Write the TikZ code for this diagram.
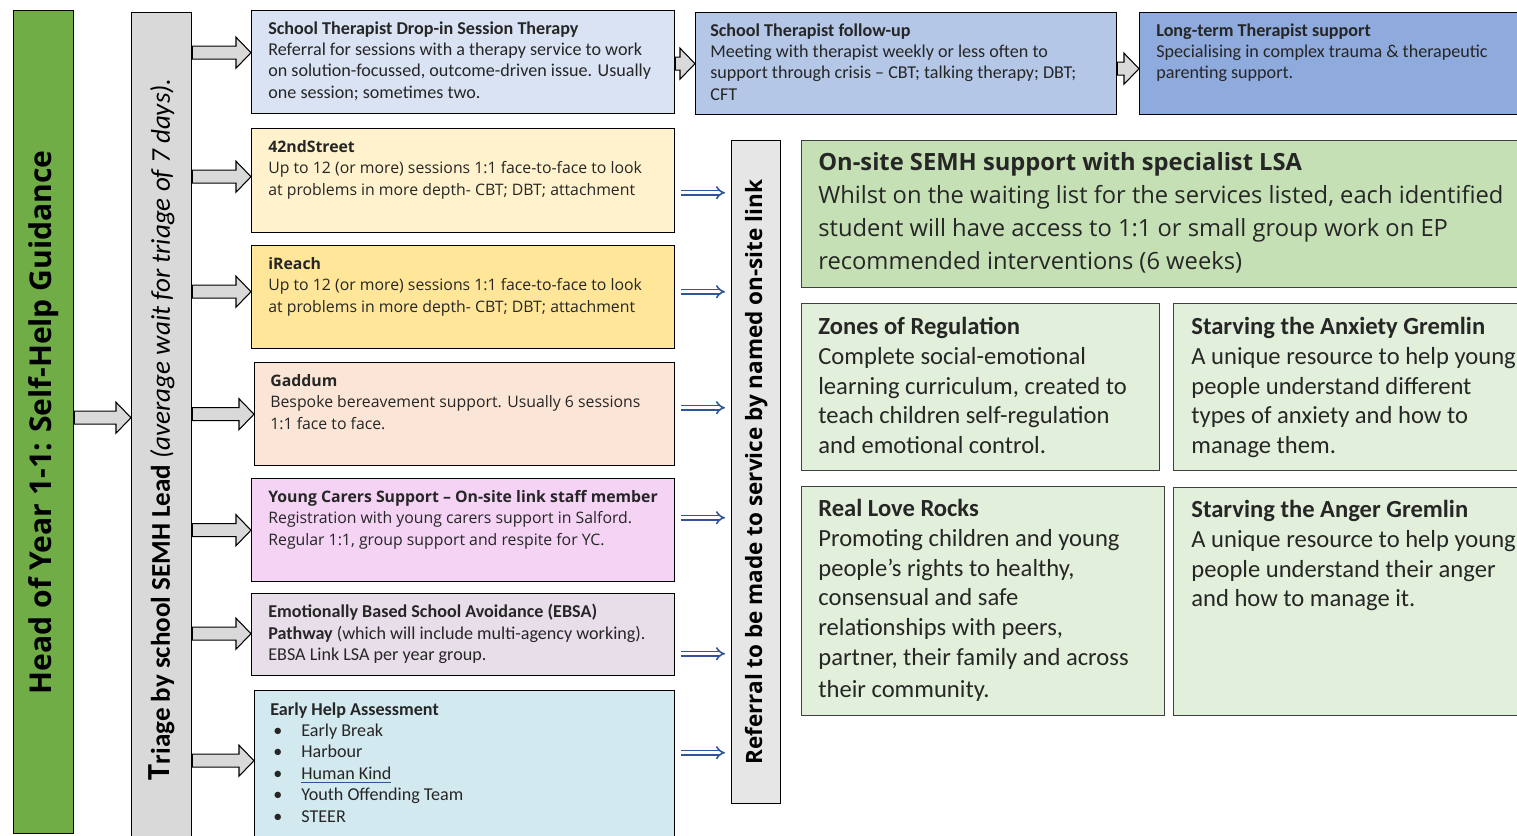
\documentclass[tikz,border=0pt]{standalone}
\usepackage{fontspec}
\usepackage{graphicx}
\setmainfont{Carlito}
\newfontfamily\segoe{Open Sans}
\usetikzlibrary{calc,arrows.meta}

\definecolor{headgreen}{HTML}{70AD47}
\definecolor{triagegray}{HTML}{D9D9D9}
\definecolor{refgray}{HTML}{E7E6E6}
\definecolor{linkblue}{HTML}{2F5597}
\definecolor{dropin}{HTML}{DAE3F3}
\definecolor{followup}{HTML}{B4C7E7}
\definecolor{longterm}{HTML}{8FAADC}
\definecolor{street}{HTML}{FFF2CC}
\definecolor{ireach}{HTML}{FFE699}
\definecolor{gaddum}{HTML}{FBE5D6}
\definecolor{carers}{HTML}{F4D3F4}
\definecolor{ebsa}{HTML}{E8DEEA}
\definecolor{earlyhelp}{HTML}{D3E9F0}
\definecolor{semh}{HTML}{C5E0B4}
\definecolor{semhlight}{HTML}{E2EFDA}

\newcommand{\itembul}{\makebox[0.62cm][l]{\hspace{0.06cm}\textbullet}}

\tikzset{
  box/.style={draw, line width=0.8pt, anchor=north west, inner sep=0pt},
  greenbox/.style={box, draw=black!75, fill=semhlight},
  txt/.style={anchor=north west, inner sep=0pt, align=left, text=black!85},
  calibri/.style={font=\fontsize{10.3}{12.2}\selectfont},
  segoesmall/.style={font=\segoe\fontsize{9}{12.2}\selectfont},
  calibribig/.style={font=\fontsize{14}{16.9}\selectfont},
  bigarrow/.style={draw=black, fill=triagegray, line width=0.6pt,
    to path={let \p1=(\tikztostart), \p2=(\tikztotarget) in
      (\x1,\y2+1.3mm) -- (\x2-3mm,\y2+1.3mm) -- (\x2-3mm,\y2+3.1mm) -- (\x2,\y2)
      -- (\x2-3mm,\y2-3.1mm) -- (\x2-3mm,\y2-1.3mm) -- (\x1,\y2-1.3mm) -- cycle}},
  dblarrow/.style={draw=linkblue, double=white, double distance=1.6pt, line width=0.9pt,
    -{Implies}, shorten <=1.2mm, shorten >=1.2mm},
}

\begin{document}
\begin{tikzpicture}
\useasboundingbox (0,0) rectangle (30.34,16.7);

% the two tall bars on the left
\node[box, fill=headgreen, minimum width=1.2cm, minimum height=16.46cm] (head) at (0.26,16.5)
  {\rotatebox{90}{\segoe\bfseries\fontsize{17.1}{17.1}\selectfont Head of Year 1-1: Self-Help Guidance}};
\node[box, fill=triagegray, minimum width=1.2cm, minimum height=16.66cm] (tri) at (2.62,16.46)
  {\rotatebox{90}{\fontsize{15.4}{15.4}\selectfont\textbf{{\fontsize{18.3}{18.3}\selectfont T}riage by school SEMH Lead} \textit{(average wait for triage of 7 days).}}};

% services
\node[box, fill=dropin, minimum width=8.46cm, minimum height=2.06cm] (b1) at (5.02,16.5) {};
\node[box, fill=followup, minimum width=8.42cm, minimum height=2.04cm] (b2) at (13.9,16.46) {};
\node[box, fill=longterm, minimum width=7.8cm, minimum height=2.04cm] (b3) at (22.78,16.46) {};
\node[box, fill=street, minimum width=8.46cm, minimum height=2.08cm] (b4) at (5.02,14.14) {};
\node[box, fill=ireach, minimum width=8.46cm, minimum height=2.06cm] (b5) at (5.02,11.8) {};
\node[box, fill=gaddum, minimum width=8.4cm, minimum height=2.06cm] (b6) at (5.08,9.46) {};
\node[box, fill=carers, minimum width=8.46cm, minimum height=2.06cm] (b7) at (5.02,7.14) {};
\node[box, fill=ebsa, minimum width=8.46cm, minimum height=1.64cm] (b8) at (5.02,4.84) {};
\node[box, fill=earlyhelp, minimum width=8.4cm, minimum height=3.2cm] (b9) at (5.08,2.9) {};

\node[txt, calibri] (b1t) at ([shift={(0.34,-0.22)}]b1.north west)
  {\textbf{School Therapist Drop-in Session Therapy}\\Referral for sessions with a therapy service to work\\on solution-focussed, outcome-driven issue. Usually\\one session; sometimes two.};
\node[txt, calibri] (b2t) at ([shift={(0.3,-0.22)}]b2.north west)
  {\textbf{School Therapist follow-up}\\Meeting with therapist weekly or less often to\\support through crisis – CBT; talking therapy; DBT;\\CFT};
\node[txt, calibri] (b3t) at ([shift={(0.34,-0.22)}]b3.north west)
  {\textbf{Long-term Therapist support}\\Specialising in complex trauma \& therapeutic\\parenting support.};
\node[txt, segoesmall] (b4t) at ([shift={(0.34,-0.24)}]b4.north west)
  {\textbf{42ndStreet}\\Up to 12 (or more) sessions 1:1 face-to-face to look\\at problems in more depth- CBT; DBT; attachment};
\node[txt, segoesmall] (b5t) at ([shift={(0.34,-0.24)}]b5.north west)
  {\textbf{iReach}\\Up to 12 (or more) sessions 1:1 face-to-face to look\\at problems in more depth- CBT; DBT; attachment};
\node[txt, segoesmall] (b6t) at ([shift={(0.32,-0.24)}]b6.north west)
  {\textbf{Gaddum}\\Bespoke bereavement support. Usually 6 sessions\\1:1 face to face.};
\node[txt, segoesmall] (b7t) at ([shift={(0.34,-0.24)}]b7.north west)
  {\textbf{Young Carers Support – On-site link staff member}\\Registration with young carers support in Salford.\\Regular 1:1, group support and respite for YC.};
\node[txt, calibri] (b8t) at ([shift={(0.34,-0.22)}]b8.north west)
  {\textbf{Emotionally Based School Avoidance (EBSA)}\\\textbf{Pathway} (which will include multi-agency working).\\EBSA Link LSA per year group.};
\node[txt, calibri] (b9t) at ([shift={(0.32,-0.24)}]b9.north west)
  {\textbf{Early Help Assessment}\\\itembul Early Break\\\itembul Harbour\\\itembul{\color{linkblue}\underline{\color{black!85}Human Kind}}\\\itembul Youth Offending Team\\\itembul STEER};

% referral bar and in-school support
\node[box, fill=refgray, minimum width=0.98cm, minimum height=13.26cm] (ref) at (14.62,13.9)
  {\rotatebox{90}{\segoe\bfseries\fontsize{12.8}{12.8}\selectfont Referral to be made to service by named on-site link}};
\node[box, draw=black!75, fill=semh, minimum width=14.6cm, minimum height=2.94cm] (semh) at (16.02,13.9) {};
\node[greenbox, minimum width=7.16cm, minimum height=3.34cm] (zones) at (16.02,10.64) {};
\node[greenbox, minimum width=7.2cm, minimum height=3.34cm] (anxiety) at (23.46,10.64) {};
\node[greenbox, minimum width=7.26cm, minimum height=4.58cm] (love) at (16.02,6.98) {};
\node[greenbox, minimum width=7.2cm, minimum height=4.56cm] (anger) at (23.46,6.96) {};

\node[txt, font=\segoe\fontsize{13.5}{18.8}\selectfont] (semht) at ([shift={(0.34,-0.24)}]semh.north west)
  {\textbf{On-site SEMH support with specialist LSA}\\Whilst on the waiting list for the services listed, each identified\\student will have access to 1:1 or small group work on EP\\recommended interventions (6 weeks)};
\node[txt, calibribig] (zonest) at ([shift={(0.34,-0.28)}]zones.north west)
  {\textbf{Zones of Regulation}\\Complete social-emotional\\learning curriculum, created to\\teach children self-regulation\\and emotional control.};
\node[txt, calibribig] (anxietyt) at ([shift={(0.36,-0.28)}]anxiety.north west)
  {\textbf{Starving the Anxiety Gremlin}\\A unique resource to help young\\people understand different\\types of anxiety and how to\\manage them.};
\node[txt, calibribig] (lovet) at ([shift={(0.34,-0.26)}]love.north west)
  {\textbf{Real Love Rocks}\\Promoting children and young\\people's rights to healthy,\\consensual and safe\\relationships with peers,\\partner, their family and across\\[0.06cm]their community.};
\node[txt, calibribig] (angert) at ([shift={(0.36,-0.26)}]anger.north west)
  {\textbf{Starving the Anger Gremlin}\\A unique resource to help young\\people understand their anger\\and how to manage it.};

% block arrows
\draw[bigarrow] (head.east) to ([yshift=2.3mm]tri.west);
\foreach \b/\s in {b1/1.9mm, b4/0.8mm, b5/1.1mm, b6/0mm, b7/0mm, b8/0.2mm, b9/2mm}
  \draw[bigarrow] (tri.east) to ([yshift=\s]\b.west);
\draw[bigarrow] (b1.east) to (b2.west);
\draw[bigarrow] (b2.east) to ([yshift=-1mm]b3.west);

% referral arrows
\foreach \b/\s in {b4/-2.4mm, b5/1.1mm, b6/1.3mm, b7/2.5mm, b8/-3.8mm, b9/3.6mm}
  \draw[dblarrow] ([yshift=\s]\b.east) coordinate (s) -- (s -| ref.west);
\end{tikzpicture}
\end{document}
